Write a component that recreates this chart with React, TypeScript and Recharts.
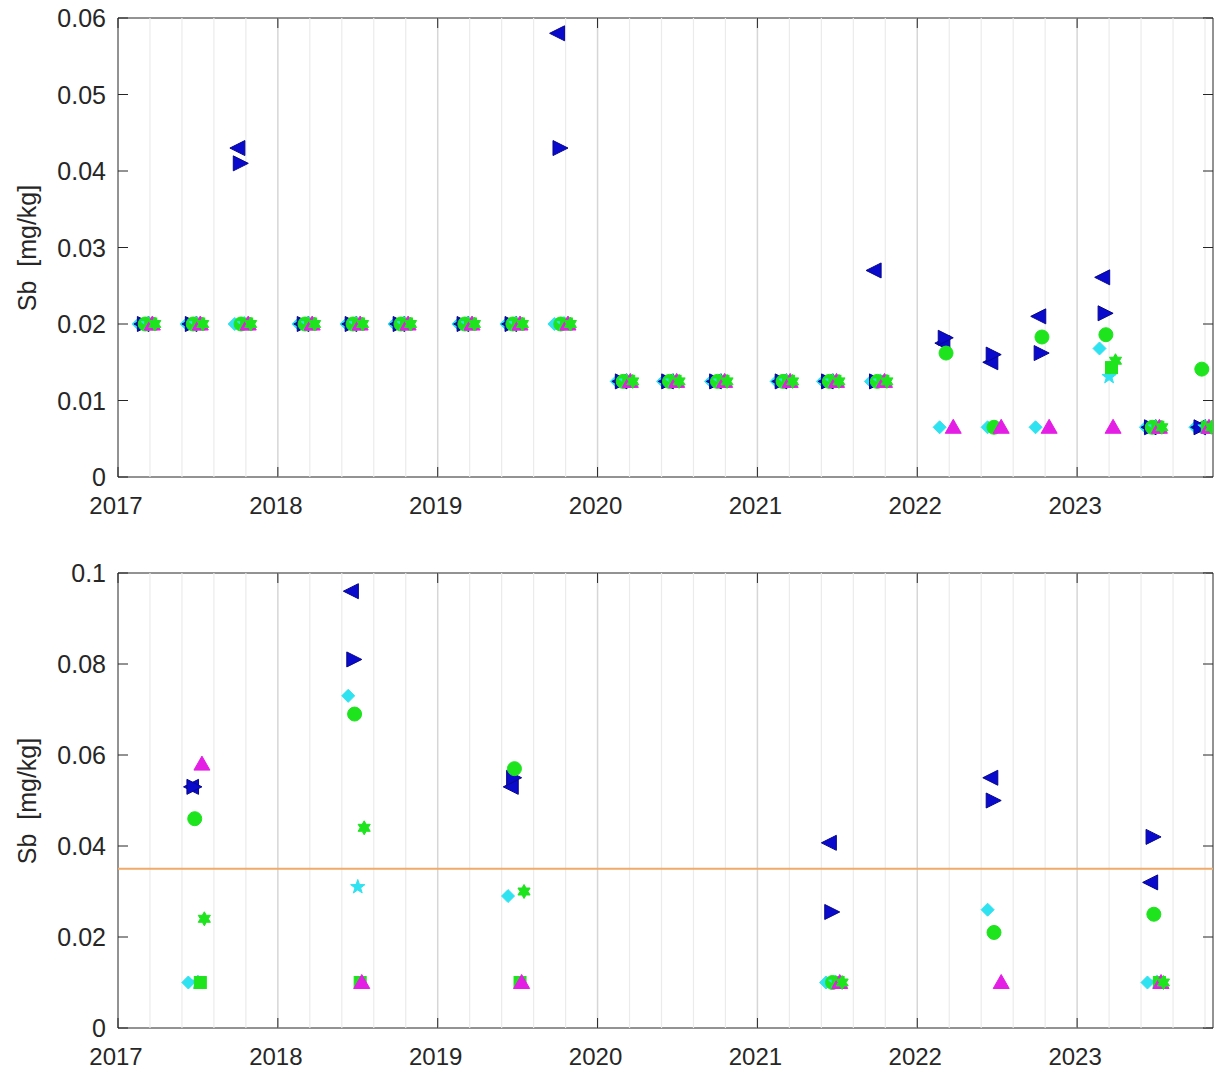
import React from 'react'
import { ScatterChart, Scatter, XAxis, YAxis, ReferenceLine, ReferenceArea } from 'recharts'

// sampling dates (decimal years) and Sb results, one array per marker series
const topDates = [2017.13, 2017.43, 2017.73, 2018.13, 2018.43, 2018.73, 2019.13, 2019.43, 2019.73, 2020.12, 2020.41, 2020.71, 2021.12, 2021.41, 2021.71, 2022.14, 2022.44, 2022.74, 2023.14, 2023.43, 2023.74]
const topDiamond = [0.02, 0.02, 0.02, 0.02, 0.02, 0.02, 0.02, 0.02, 0.02, 0.0125, 0.0125, 0.0125, 0.0125, 0.0125, 0.0125, 0.0065, 0.0065, 0.0065, 0.0168, 0.0065, 0.0065]
const topLeftTri = [0.02, 0.02, 0.043, 0.02, 0.02, 0.02, 0.02, 0.02, 0.058, 0.0125, 0.0125, 0.0125, 0.0125, 0.0125, 0.027, 0.0175, 0.015, 0.021, 0.0261, 0.0065, 0.0065]
const topRightTri = [0.02, 0.02, 0.041, 0.02, 0.02, 0.02, 0.02, 0.02, 0.043, 0.0125, 0.0125, 0.0125, 0.0125, 0.0125, 0.0125, 0.0182, 0.016, 0.0162, 0.0214, 0.0065, 0.0065]
const topCircle = [0.02, 0.02, 0.02, 0.02, 0.02, 0.02, 0.02, 0.02, 0.02, 0.0125, 0.0125, 0.0125, 0.0125, 0.0125, 0.0125, 0.0162, 0.0065, 0.0183, 0.0186, 0.0065, 0.0141]
const topStar = [0.02, 0.02, 0.02, 0.02, 0.02, 0.02, 0.02, 0.02, 0.02, 0.0125, 0.0125, 0.0125, 0.0125, 0.0125, 0.0125, null, null, null, 0.0131, 0.0065, 0.0065]
const topSquare = [0.02, 0.02, 0.02, 0.02, 0.02, 0.02, 0.02, 0.02, 0.02, 0.0125, 0.0125, 0.0125, 0.0125, 0.0125, 0.0125, null, null, null, 0.0143, 0.0065, 0.0065]
const topTriUp = [0.02, 0.02, 0.02, 0.02, 0.02, 0.02, 0.02, 0.02, 0.02, 0.0125, 0.0125, 0.0125, 0.0125, 0.0125, 0.0125, 0.0065, 0.0065, 0.0065, 0.0065, 0.0065, 0.0065]
const topHex = [0.02, 0.02, 0.02, 0.02, 0.02, 0.02, 0.02, 0.02, 0.02, 0.0125, 0.0125, 0.0125, 0.0125, 0.0125, 0.0125, null, null, null, 0.0152, 0.0065, 0.0065]

const botDates = [2017.44, 2018.44, 2019.44, 2021.43, 2022.44, 2023.44]
const botDiamond = [0.01, 0.073, 0.029, 0.01, 0.026, 0.01]
const botLeftTri = [0.053, 0.096, 0.053, 0.0407, 0.055, 0.032]
const botRightTri = [0.053, 0.081, 0.055, 0.0255, 0.05, 0.042]
const botCircle = [0.046, 0.069, 0.057, 0.01, 0.021, 0.025]
const botStar = [0.01, 0.031, null, 0.01, null, 0.01]
const botSquare = [0.01, 0.01, 0.01, 0.01, null, 0.01]
const botTriUp = [0.058, 0.01, 0.01, 0.01, 0.01, 0.01]
const botHex = [0.024, 0.044, 0.03, 0.01, null, 0.01]

const sbLimit = 0.035

const yearTicks = [2017, 2018, 2019, 2020, 2021, 2022, 2023]
const topYTicks = [0, 0.01, 0.02, 0.03, 0.04, 0.05, 0.06]
const botYTicks = [0, 0.02, 0.04, 0.06, 0.08, 0.1]

const X_END = 2023.85
const AXIS = '#262626'
const FONT = '"Liberation Sans", Arial, Helvetica, sans-serif'

const BLUE = '#0a0acc'
const GREEN = '#1ee41e'
const CYAN = '#2ee2f0'
const MAGENTA = '#e41ee4'

// each lab/series reports a few days after the cyan one
const seriesDefs = [
  { name: 'diamond', color: CYAN, lag: 0 },
  { name: 'leftTri', color: BLUE, lag: 0.02 },
  { name: 'rightTri', color: BLUE, lag: 0.035 },
  { name: 'circle', color: GREEN, lag: 0.04 },
  { name: 'star', color: CYAN, lag: 0.06 },
  { name: 'square', color: GREEN, lag: 0.075 },
  { name: 'triUp', color: MAGENTA, lag: 0.085 },
  { name: 'hex', color: GREEN, lag: 0.1 },
]

const topValues = [topDiamond, topLeftTri, topRightTri, topCircle, topStar, topSquare, topTriUp, topHex]
const botValues = [botDiamond, botLeftTri, botRightTri, botCircle, botStar, botSquare, botTriUp, botHex]

function buildSeries(dates: number[], values: (number | null)[][]) {
  return seriesDefs.map((d, i) => ({
    ...d,
    data: dates
      .map((t, j) => ({ x: t + d.lag, y: values[i][j] }))
      .filter(p => p.y !== null),
  }))
}

function starPoints(cx: number, cy: number, n: number, R: number, r: number) {
  const pts: string[] = []
  for (let k = 0; k < n * 2; k++) {
    const a = -Math.PI / 2 + (k * Math.PI) / n
    const rad = k % 2 === 0 ? R : r
    pts.push(`${cx + rad * Math.cos(a)},${cy + rad * Math.sin(a)}`)
  }
  return pts.join(' ')
}

function makeShape(name: string, color: string) {
  return (props: any) => {
    const { cx, cy } = props
    if (cx == null || cy == null) return <g />
    const edge = color === BLUE ? '#07078a' : color
    switch (name) {
      case 'leftTri':
        return <polygon points={`${cx - 8},${cy} ${cx + 7},${cy - 7.5} ${cx + 7},${cy + 7.5}`} fill={color} stroke={edge} />
      case 'rightTri':
        return <polygon points={`${cx + 8},${cy} ${cx - 7},${cy - 7.5} ${cx - 7},${cy + 7.5}`} fill={color} stroke={edge} />
      case 'triUp':
        return <polygon points={`${cx},${cy - 8} ${cx + 8},${cy + 6} ${cx - 8},${cy + 6}`} fill={color} stroke={edge} />
      case 'diamond':
        return <polygon points={`${cx},${cy - 6.5} ${cx + 6.5},${cy} ${cx},${cy + 6.5} ${cx - 6.5},${cy}`} fill={color} stroke={edge} />
      case 'square':
        return <rect x={cx - 6} y={cy - 6} width={12} height={12} fill={color} stroke={edge} />
      case 'star':
        return <polygon points={starPoints(cx, cy, 5, 7.5, 3)} fill={color} stroke={edge} />
      case 'hex':
        return <polygon points={starPoints(cx, cy, 6, 7, 4)} fill={color} stroke={edge} />
      default:
        return <circle cx={cx} cy={cy} r={7} fill={color} stroke={edge} />
    }
  }
}

const XTick = (props: any) => {
  const { x, y, payload, plotTop } = props
  return (
    <g>
      <line x1={x} y1={y} x2={x} y2={y - 10} stroke={AXIS} />
      <line x1={x} y1={plotTop} x2={x} y2={plotTop + 10} stroke={AXIS} />
      <text x={x - 2} y={y + 37} textAnchor="middle" fontSize={24} fill={AXIS} fontFamily={FONT}>
        {payload.value}
      </text>
    </g>
  )
}

const YTick = (props: any) => {
  const { x, y, payload, plotRight } = props
  return (
    <g>
      <line x1={x} y1={y} x2={x + 10} y2={y} stroke={AXIS} />
      <line x1={plotRight} y1={y} x2={plotRight - 10} y2={y} stroke={AXIS} />
      <text x={x - 12} y={y} dy="0.36em" textAnchor="end" fontSize={25} fill={AXIS} fontFamily={FONT}>
        {String(payload.value)}
      </text>
    </g>
  )
}

// light gridlines every fifth of a year, slightly darker on the year boundaries
const gridLines: { x: number; major: boolean }[] = []
yearTicks.forEach(yr => {
  ;[0, 0.2, 0.4, 0.6, 0.8].forEach(f => {
    if (yr + f > 2017 && yr + f < X_END) gridLines.push({ x: yr + f, major: f === 0 })
  })
})

interface PanelProps {
  offsetTop: number
  height: number
  xAxisHeight: number
  yMax: number
  yTicks: number[]
  dates: number[]
  values: (number | null)[][]
  limit?: number
}

function Panel({ offsetTop, height, xAxisHeight, yMax, yTicks, dates, values, limit }: PanelProps) {
  const plotTop = 18
  const plotRight = 1213
  const plotBottom = height - xAxisHeight
  const series = buildSeries(dates, values)
  return (
    <div style={{ position: 'absolute', left: 0, top: offsetTop, width: 1230, height }}>
      <ScatterChart width={1230} height={height} margin={{ top: plotTop, right: 1230 - plotRight, left: 0, bottom: 0 }}>
        <XAxis
          type="number"
          dataKey="x"
          domain={[2017, X_END]}
          ticks={yearTicks}
          interval={0}
          height={xAxisHeight}
          tickSize={0}
          tickMargin={0}
          axisLine={false}
          tickLine={false}
          tick={<XTick plotTop={plotTop} />}
          allowDataOverflow
        />
        <YAxis
          type="number"
          dataKey="y"
          domain={[0, yMax]}
          ticks={yTicks}
          interval={0}
          width={118}
          tickSize={0}
          tickMargin={0}
          axisLine={false}
          tickLine={false}
          tick={<YTick plotRight={plotRight} />}
          allowDataOverflow
        />
        {gridLines.map(g => (
          <ReferenceLine
            key={g.x}
            x={g.x}
            stroke={g.major ? '#d6d6d6' : '#ebebeb'}
            strokeWidth={g.major ? 1.5 : 1.2}
          />
        ))}
        {limit !== undefined && <ReferenceLine y={limit} stroke="#f0aa6a" strokeWidth={2} />}
        {series.map(s => (
          <Scatter key={s.name} data={s.data} shape={makeShape(s.name, s.color)} isAnimationActive={false} />
        ))}
        <ReferenceArea x1={2017} x2={X_END} y1={0} y2={yMax} fill="none" stroke={AXIS} strokeWidth={1} />
      </ScatterChart>
      <div
        style={{
          position: 'absolute',
          left: 27,
          top: (plotTop + plotBottom) / 2,
          transform: 'translate(-50%, -50%) rotate(-90deg)',
          whiteSpace: 'pre',
          fontSize: 25,
          fontFamily: FONT,
          color: AXIS,
        }}
      >
        Sb  [mg/kg]
      </div>
    </div>
  )
}

export default function App() {
  return (
    <div style={{ position: 'absolute', left: 0, top: 0, width: 1230, height: 1073, background: '#fff', fontFamily: FONT }}>
      <Panel offsetTop={0} height={530} xAxisHeight={53} yMax={0.06} yTicks={topYTicks} dates={topDates} values={topValues} />
      <Panel offsetTop={555} height={518} xAxisHeight={45} yMax={0.1} yTicks={botYTicks} dates={botDates} values={botValues} limit={sbLimit} />
    </div>
  )
}
